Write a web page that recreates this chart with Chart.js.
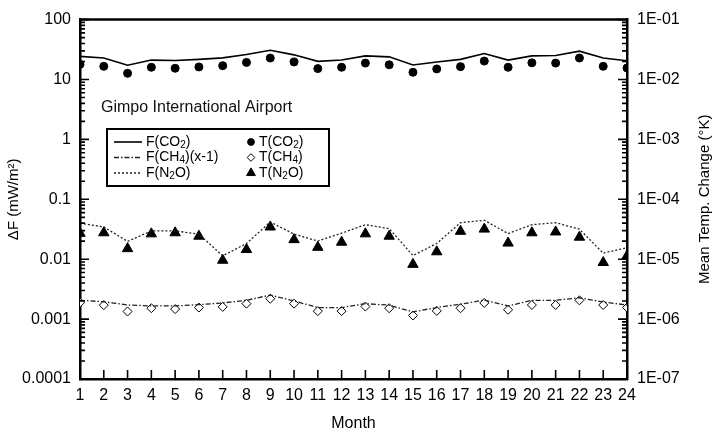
<!DOCTYPE html>
<html>
<head>
<meta charset="utf-8">
<script src="https://cdn.jsdelivr.net/npm/chart.js@4.4.1/dist/chart.umd.min.js"></script>
<style>
    body { margin: 0; background: #fff; overflow: hidden; }
    canvas { display: block; }
</style>
</head>
<body>
<canvas id="chart" width="716" height="436"></canvas>
<script>
const months = [1, 2, 3, 4, 5, 6, 7, 8, 9, 10, 11, 12, 13, 14, 15, 16, 17, 18, 19, 20, 21, 22, 23, 24];

// radiative forcing, mW/m2 (left axis)
const fCO2 = [24.3, 22.8, 17.3, 21.1, 20.8, 21.7, 23.0, 26.2, 30.8, 25.8, 20.1, 21.1, 24.8, 23.9, 17.5, 19.6, 21.7, 27.2, 21.1, 24.8, 25.2, 29.7, 22.8, 20.6];
const fCH4 = [0.00206, 0.00195, 0.00172, 0.00166, 0.00166, 0.00174, 0.00186, 0.00206, 0.00252, 0.00201, 0.00156, 0.00156, 0.00181, 0.00171, 0.00132, 0.00156, 0.00177, 0.00208, 0.00166, 0.00206, 0.00206, 0.00227, 0.00193, 0.00172];
const fN2O = [0.0398, 0.0346, 0.0198, 0.0297, 0.0297, 0.0262, 0.0114, 0.0183, 0.0418, 0.0262, 0.0201, 0.0272, 0.0377, 0.0324, 0.0115, 0.0183, 0.0407, 0.0446, 0.0268, 0.0377, 0.0407, 0.0317, 0.0126, 0.0156];

// mean temperature change, K (right axis)
const tCO2 = [1.79e-2, 1.66e-2, 1.27e-2, 1.60e-2, 1.54e-2, 1.62e-2, 1.70e-2, 1.93e-2, 2.28e-2, 1.96e-2, 1.52e-2, 1.60e-2, 1.88e-2, 1.76e-2, 1.32e-2, 1.50e-2, 1.64e-2, 2.03e-2, 1.60e-2, 1.90e-2, 1.88e-2, 2.28e-2, 1.66e-2, 1.56e-2];
const tCH4 = [1.88e-6, 1.71e-6, 1.34e-6, 1.52e-6, 1.47e-6, 1.56e-6, 1.60e-6, 1.81e-6, 2.19e-6, 1.81e-6, 1.36e-6, 1.36e-6, 1.62e-6, 1.52e-6, 1.15e-6, 1.37e-6, 1.52e-6, 1.86e-6, 1.43e-6, 1.72e-6, 1.72e-6, 2.06e-6, 1.72e-6, 1.56e-6];
const tN2O = [2.70e-5, 2.76e-5, 1.50e-5, 2.65e-5, 2.76e-5, 2.42e-5, 0.96e-5, 1.45e-5, 3.45e-5, 2.12e-5, 1.58e-5, 1.92e-5, 2.65e-5, 2.42e-5, 0.82e-5, 1.33e-5, 2.92e-5, 3.18e-5, 1.86e-5, 2.76e-5, 2.85e-5, 2.33e-5, 0.88e-5, 1.13e-5];

const leftTickValues = [1e-4, 1e-3, 1e-2, 1e-1, 1, 10, 100];
const leftTickLabels = ['0.0001', '0.001', '0.01', '0.1', '1', '10', '100'];
const rightTickValues = [1e-7, 1e-6, 1e-5, 1e-4, 1e-3, 1e-2, 1e-1];
const rightTickLabels = ['1E-07', '1E-06', '1E-05', '1E-04', '1E-03', '1E-02', '1E-01'];

const lineNames = ['F(CO_2)', 'F(CH_4)(x-1)', 'F(N_2O)'];
const markNames = ['T(CO_2)', 'T(CH_4)', 'T(N_2O)'];
const siteName = 'Gimpo International Airport';

const FONT = '"Liberation Sans", Arial, sans-serif';

function pts(values) {
    return months.map((m, i) => ({ x: m, y: values[i] }));
}

function plain(name) {
    return name.replace('_', '');
}

// text with "_n" written as a subscript
function drawRich(ctx, text, x, y, size) {
    const parts = text.split(/_(\d)/);
    let cx = x;
    parts.forEach((p, i) => {
        if (!p) return;
        const sub = i % 2 === 1;
        ctx.font = (sub ? size - 4 : size) + 'px ' + FONT;
        ctx.fillText(p, cx, sub ? y + 3 : y);
        cx += ctx.measureText(p).width;
    });
}

const extras = {
    id: 'extras',
    afterDraw(chart) {
        const ctx = chart.ctx;
        const area = chart.chartArea;
        const sx = chart.scales.x, sy = chart.scales.y, sy2 = chart.scales.y2;
        ctx.save();
        ctx.setLineDash([]);
        ctx.strokeStyle = '#000';
        ctx.fillStyle = '#000';

        // top edge of the frame
        ctx.lineWidth = 2.5;
        ctx.beginPath();
        ctx.moveTo(area.left, area.top);
        ctx.lineTo(area.right, area.top);
        ctx.stroke();

        // ticks pointing into the plot
        ctx.lineWidth = 1.6;
        ctx.beginPath();
        leftTickValues.forEach((v, i) => {
            const pl = sy.getPixelForValue(v);
            const pr = sy2.getPixelForValue(rightTickValues[i]);
            ctx.moveTo(area.left, pl); ctx.lineTo(area.left + 9, pl);
            ctx.moveTo(area.right, pr); ctx.lineTo(area.right - 9, pr);
            if (i === leftTickValues.length - 1) return;
            for (let k = 2; k <= 9; k++) {
                const ml = sy.getPixelForValue(v * k);
                const mr = sy2.getPixelForValue(rightTickValues[i] * k);
                ctx.moveTo(area.left, ml); ctx.lineTo(area.left + 5, ml);
                ctx.moveTo(area.right, mr); ctx.lineTo(area.right - 5, mr);
            }
        });
        months.forEach(m => {
            const px = sx.getPixelForValue(m);
            ctx.moveTo(px, area.bottom);
            ctx.lineTo(px, area.bottom - 9);
        });
        ctx.stroke();

        // right axis title, reading upwards
        ctx.save();
        ctx.translate(705, (area.top + area.bottom) / 2);
        ctx.rotate(-Math.PI / 2);
        ctx.textAlign = 'center';
        ctx.textBaseline = 'middle';
        ctx.font = '15px ' + FONT;
        ctx.fillText('Mean Temp. Change (°K)', 0, 0);
        ctx.restore();

        // site name
        ctx.textAlign = 'left';
        ctx.textBaseline = 'alphabetic';
        ctx.font = '16px ' + FONT;
        ctx.fillStyle = '#111';
        ctx.fillText(siteName, 101, 112);

        // legend box
        ctx.fillStyle = '#fff';
        ctx.fillRect(107, 129, 222, 57);
        ctx.lineWidth = 2;
        ctx.strokeStyle = '#000';
        ctx.strokeRect(107, 129, 222, 57);

        const rows = [142, 157.5, 173];
        const sets = chart.data.datasets;
        ctx.textBaseline = 'middle';
        ctx.fillStyle = '#000';
        lineNames.forEach((name, i) => {
            const ds = sets[i];
            ctx.save();
            ctx.strokeStyle = ds.borderColor;
            ctx.lineWidth = ds.borderWidth;
            ctx.setLineDash(ds.borderDash || []);
            ctx.beginPath();
            ctx.moveTo(114, rows[i]);
            ctx.lineTo(142, rows[i]);
            ctx.stroke();
            ctx.restore();
            drawRich(ctx, name, 146, rows[i], 14);
        });
        markNames.forEach((name, i) => {
            const ds = sets[i + 3];
            ctx.fillStyle = ds.pointBackgroundColor;
            ctx.strokeStyle = ds.pointBorderColor;
            ctx.lineWidth = 1;
            Chart.helpers.drawPoint(ctx, {
                pointStyle: ds.pointStyle,
                radius: ds.pointRadius * 0.85,
                borderWidth: ds.pointBorderWidth,
                rotation: 0
            }, 251, rows[i]);
            ctx.fillStyle = '#000';
            drawRich(ctx, name, 259, rows[i], 14);
        });
        ctx.restore();
    }
};

function markerSet(name, values, style, radius, fill) {
    return {
        label: plain(name),
        data: pts(values),
        yAxisID: 'y2',
        showLine: false,
        pointStyle: style,
        pointRadius: radius,
        pointBackgroundColor: fill,
        pointBorderColor: '#000',
        pointBorderWidth: 1,
        borderColor: '#000',
        backgroundColor: fill
    };
}

new Chart(document.getElementById('chart'), {
    type: 'line',
    data: {
        datasets: [
            { label: plain(lineNames[0]), data: pts(fCO2), yAxisID: 'y', borderColor: '#000', borderWidth: 1.6, pointRadius: 0, tension: 0 },
            { label: plain(lineNames[1]), data: pts(fCH4), yAxisID: 'y', borderColor: '#222', borderWidth: 1.3, borderDash: [5, 2, 1.5, 2], pointRadius: 0, tension: 0 },
            { label: plain(lineNames[2]), data: pts(fN2O), yAxisID: 'y', borderColor: '#222', borderWidth: 1.3, borderDash: [2, 2], pointRadius: 0, tension: 0 },
            markerSet(markNames[0], tCO2, 'circle', 4, '#000'),
            markerSet(markNames[1], tCH4, 'rectRot', 4.5, '#fff'),
            markerSet(markNames[2], tN2O, 'triangle', 6, '#000')
        ]
    },
    options: {
        responsive: false,
        animation: false,
        layout: { padding: { top: 15, left: 0, right: 0, bottom: 0 } },
        plugins: {
            legend: { display: false },
            tooltip: { enabled: false }
        },
        scales: {
            x: {
                type: 'linear',
                min: 1,
                max: 24,
                afterBuildTicks: s => { s.ticks = months.map(m => ({ value: m })); },
                afterFit: s => { s.height = 57; },
                ticks: { autoSkip: false, maxRotation: 0, padding: 7, color: '#000', font: { family: FONT, size: 16 } },
                grid: { display: false, drawTicks: false },
                border: { display: true, color: '#000', width: 2.5 },
                title: { display: true, text: 'Month', color: '#000', font: { family: FONT, size: 16 }, padding: { top: 3, bottom: 3 } }
            },
            y: {
                type: 'logarithmic',
                position: 'left',
                min: 1e-4,
                max: 100,
                afterBuildTicks: s => { s.ticks = leftTickValues.map(v => ({ value: v })); },
                afterFit: s => { s.width = 80; },
                ticks: {
                    padding: 9, color: '#000', font: { family: FONT, size: 16 },
                    callback: v => leftTickLabels[Math.round(Math.log10(v)) + 4]
                },
                grid: { display: false, drawTicks: false },
                border: { display: true, color: '#000', width: 2.5 },
                title: { display: true, text: 'ΔF (mW/m²)', color: '#000', font: { family: FONT, size: 15 }, padding: { top: 5, bottom: 0 } }
            },
            y2: {
                type: 'logarithmic',
                position: 'right',
                min: 1e-7,
                max: 1e-1,
                afterBuildTicks: s => { s.ticks = rightTickValues.map(v => ({ value: v })); },
                afterFit: s => { s.width = 89; },
                ticks: {
                    padding: 10, color: '#000', font: { family: FONT, size: 16 },
                    callback: v => rightTickLabels[Math.round(Math.log10(v)) + 7]
                },
                grid: { display: false, drawTicks: false },
                border: { display: true, color: '#000', width: 2.5 }
            }
        }
    },
    plugins: [extras]
});
</script>
</body>
</html>
